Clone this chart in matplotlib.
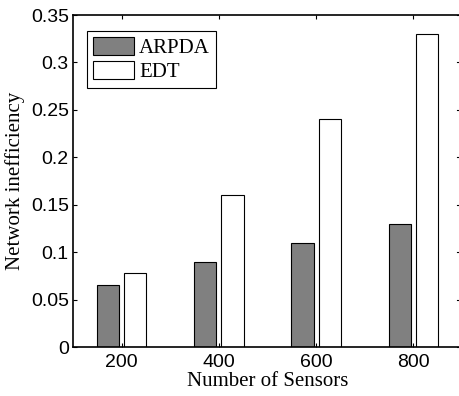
import matplotlib
matplotlib.use("Agg")
import matplotlib.pyplot as plt
import numpy as np

categories = ["200", "400", "600", "800"]
arpda = [0.065, 0.09, 0.11, 0.13]
edt = [0.078, 0.16, 0.24, 0.33]
yticks = [0, 0.05, 0.1, 0.15, 0.2, 0.25, 0.3, 0.35]
ytick_labels = ["0", "0.05", "0.1", "0.15", "0.2", "0.25", "0.3", "0.35"]

fig = plt.figure(figsize=(4.6, 3.96), dpi=100)
ax = fig.add_axes([73/460, 49/396, 389/460, 332/396])

x = np.arange(1, len(categories) + 1)
w = 0.23
off = 0.14
ax.bar(x - off, arpda, w, color="#808080", edgecolor="black", linewidth=0.8, label="ARPDA")
ax.bar(x + off, edt, w, color="white", edgecolor="black", linewidth=0.8, label="EDT")

ax.set_xlim(0.5, 4.5)
ax.set_ylim(0, 0.35)
ax.set_xticks(x)
ax.set_xticklabels(categories, fontfamily="Liberation Sans", fontsize=14)
ax.set_yticks(yticks)
ax.set_yticklabels(ytick_labels, fontfamily="Liberation Sans", fontsize=14)
ax.tick_params(direction="in", length=3, width=0.8, top=True, right=False, pad=3)
ax.tick_params(axis="x", pad=5)
for s in ax.spines.values():
    s.set_linewidth(1.2)
ax.spines["right"].set_visible(False)
# right-side inward ticks drawn as short segments in axes coordinates
for yt in yticks:
    ax.plot([1 - 5/389, 1 - 1/389], [yt, yt], color="black", linewidth=0.8,
            transform=ax.get_yaxis_transform(), clip_on=False)

ax.set_xlabel("Number of Sensors", fontfamily="Liberation Serif", fontsize=15, labelpad=1)
ax.set_ylabel("Network inefficiency", fontfamily="Liberation Serif", fontsize=15, labelpad=4)

leg = ax.legend(loc="upper left", bbox_to_anchor=(14/389, 1 - 16/332), borderaxespad=0,
                prop={"family": "Liberation Serif", "size": 15}, fancybox=False,
                edgecolor="black", framealpha=1, handlelength=1.95, handleheight=0.95,
                handletextpad=0.25, borderpad=0.3, labelspacing=0.12)
leg.get_frame().set_linewidth(0.8)

fig.savefig("out.png", dpi=100)
